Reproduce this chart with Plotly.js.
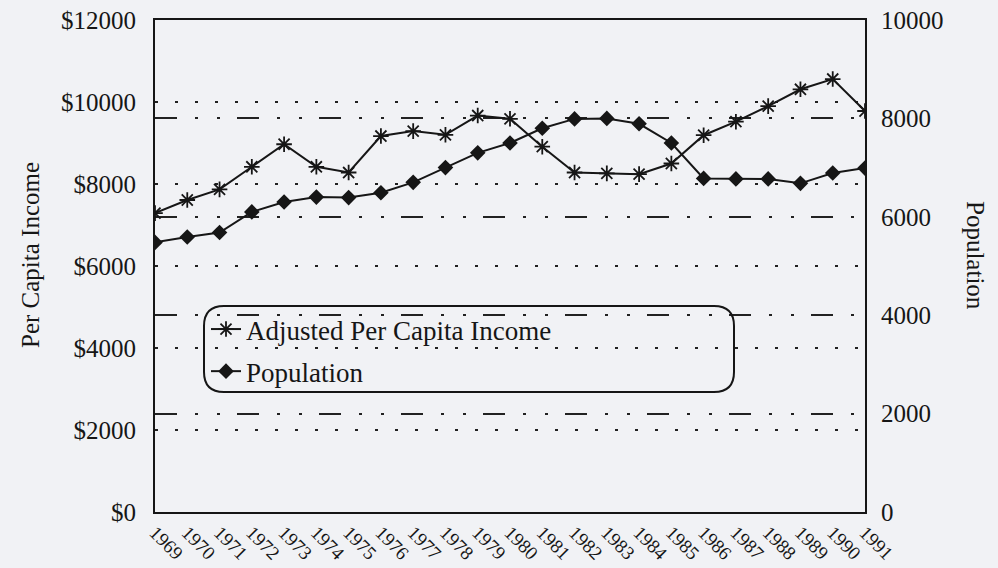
<!DOCTYPE html>
<html>
<head>
<meta charset="utf-8">
<script src="https://cdn.plot.ly/plotly-3.0.1.min.js"></script>
<style>
html,body{margin:0;padding:0;background:#f1f2f5;}
#chart{width:998px;height:568px;}
</style>
</head>
<body>
<div id="chart"></div>
<script>
var years = [1969,1970,1971,1972,1973,1974,1975,1976,1977,1978,1979,1980,1981,1982,1983,1984,1985,1986,1987,1988,1989,1990,1991];
var income = [7290,7610,7870,8420,8970,8420,8280,9170,9290,9200,9670,9590,8910,8280,8260,8240,8500,9190,9520,9900,10310,10560,9780];
var population = [5480,5590,5680,6100,6300,6400,6390,6490,6700,7000,7300,7500,7800,7990,8000,7890,7500,6780,6770,6770,6680,6890,6990];
var incomeTicks = [0,2000,4000,6000,8000,10000,12000];
var popTicks = [0,2000,4000,6000,8000,10000];

var ink = '#161616';
var serif = 'Liberation Serif, Times New Roman, serif';

var traces = [
  {x: years, y: income, name: 'Adjusted Per Capita Income', type: 'scatter', mode: 'lines+markers',
   legendgroup: 'a',
   line: {color: ink, width: 2},
   marker: {symbol: 'asterisk-open', size: 13, color: ink, line: {color: ink, width: 1.8}},
   yaxis: 'y'},
  {x: years, y: population, name: 'Population', type: 'scatter', mode: 'lines+markers',
   legendgroup: 'b',
   line: {color: ink, width: 2},
   marker: {symbol: 'diamond', size: 12, color: ink},
   yaxis: 'y2'}
];

// rounded legend frame (paper coords); plot area 710 x 492 px
function px2x(p){ return (p-155)/710; }
function px2y(p){ return (512-p)/492; }
var L=204, R=734, T=306, B=392, r=20;
var framePath = 'M ' + px2x(L+r) + ',' + px2y(T) +
  ' L ' + px2x(R-r) + ',' + px2y(T) +
  ' Q ' + px2x(R) + ',' + px2y(T) + ' ' + px2x(R) + ',' + px2y(T+r) +
  ' L ' + px2x(R) + ',' + px2y(B-r) +
  ' Q ' + px2x(R) + ',' + px2y(B) + ' ' + px2x(R-r) + ',' + px2y(B) +
  ' L ' + px2x(L+r) + ',' + px2y(B) +
  ' Q ' + px2x(L) + ',' + px2y(B) + ' ' + px2x(L) + ',' + px2y(B-r) +
  ' L ' + px2x(L) + ',' + px2y(T+r) +
  ' Q ' + px2x(L) + ',' + px2y(T) + ' ' + px2x(L+r) + ',' + px2y(T) + ' Z';

var layout = {
  width: 998, height: 568,
  margin: {l: 155, r: 133, t: 20, b: 56},
  paper_bgcolor: '#f1f2f5',
  plot_bgcolor: 'rgba(0,0,0,0)',
  font: {family: serif, color: ink, size: 25},
  showlegend: true,
  legend: {x: px2x(L+2), y: px2y(T-1), xanchor: 'left', yanchor: 'top',
           bgcolor: 'rgba(0,0,0,0)', borderwidth: 0, traceorder: 'grouped', tracegroupgap: 4,
           font: {family: serif, size: 27, color: ink}, itemwidth: 30},
  xaxis: {range: [1969, 1991], tickmode: 'array', tickvals: years, ticktext: years.map(String),
          tickangle: 45, tickfont: {family: serif, size: 19, color: ink},
          showline: true, mirror: true, linecolor: ink, linewidth: 2,
          showgrid: false, zeroline: false, ticks: '', fixedrange: true},
  yaxis: {range: [0, 12000], tickmode: 'array', tickvals: incomeTicks,
          ticktext: incomeTicks.map(function(v){return '$' + v;}),
          tickfont: {family: serif, size: 25, color: ink},
          ticks: 'outside', ticklen: 12, tickcolor: 'rgba(0,0,0,0)',
          showline: true, mirror: true, linecolor: ink, linewidth: 2,
          showgrid: true, gridcolor: '#222', gridwidth: 2, griddash: '3px,17px',
          zeroline: false},
  yaxis2: {range: [0, 10000], overlaying: 'y', side: 'right', tickmode: 'array', tickvals: popTicks,
           ticktext: popTicks.map(String),
           tickfont: {family: serif, size: 25, color: ink},
           ticks: 'outside', ticklen: 10, tickcolor: 'rgba(0,0,0,0)',
           showline: false, showgrid: true, gridcolor: '#222', gridwidth: 2,
           griddash: '22px,18px,3px,19px,3px,17px', zeroline: false},
  shapes: [{type: 'path', xref: 'paper', yref: 'paper', path: framePath,
            line: {color: ink, width: 2}, fillcolor: 'rgba(0,0,0,0)'}],
  annotations: [
    {text: 'Per Capita Income', xref: 'paper', yref: 'paper', x: px2x(30), y: px2y(255),
     xanchor: 'center', yanchor: 'middle',
     showarrow: false, textangle: -90, font: {family: serif, size: 25, color: ink}},
    {text: 'Population', xref: 'paper', yref: 'paper', x: px2x(976), y: px2y(255),
     xanchor: 'center', yanchor: 'middle',
     showarrow: false, textangle: 90, font: {family: serif, size: 25, color: ink}}
  ]
};

Plotly.newPlot('chart', traces, layout, {displayModeBar: false, staticPlot: true});
</script>
</body>
</html>
